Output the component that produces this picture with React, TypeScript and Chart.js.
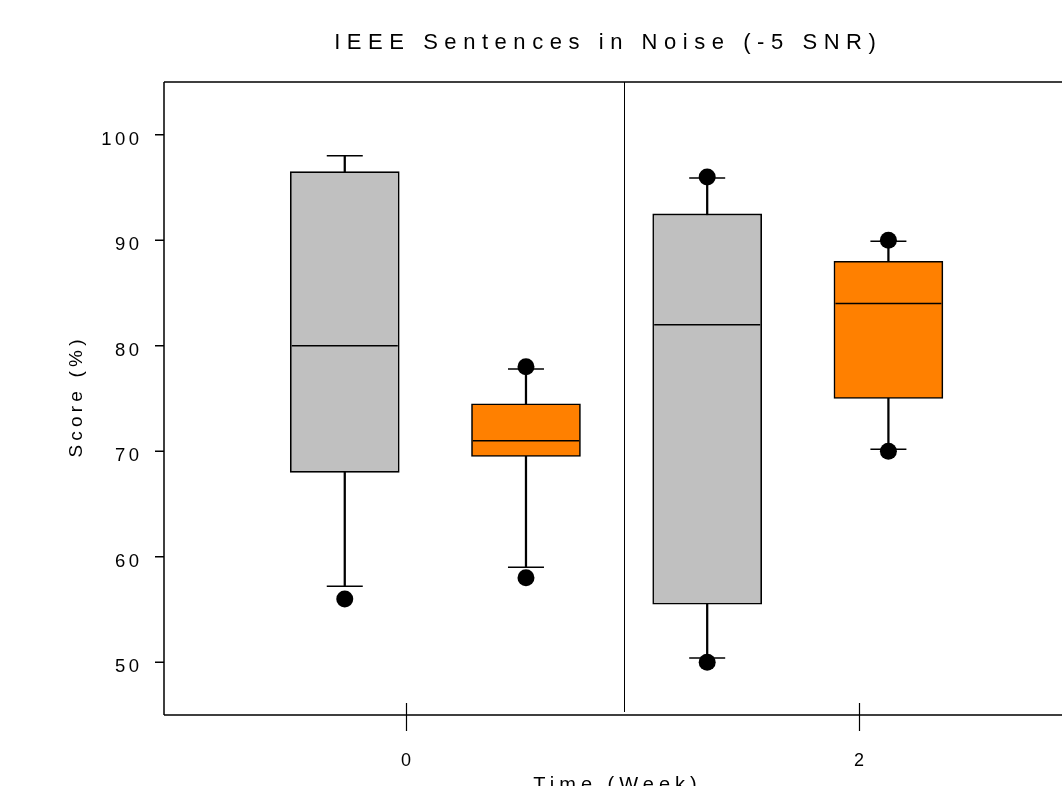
import React, { useEffect, useRef } from "react";
import { Chart, registerables } from "chart.js";

Chart.register(...registerables);

// ---------- text ----------
const titleText = "IEEE Sentences in Noise (-5 SNR)";
const xTitleText = "Time (Week)";
const yTitleText = "Score (%)";

// ---------- axes ----------
const yTickValues = [50, 60, 70, 80, 90, 100];
const xTickValues = [0, 2];
const yMin = 45;
const yMax = 105;
const xMin = -1.068;
const xMax = 2.914;
const dividerValues = [0.9625];

// ---------- control (gray) boxes ----------
const grayX = [-0.27, 1.33];
const grayWhiskerLow = [57.2, 50.4];
const grayQ1 = [68, 55.5];
const grayMedian = [80, 82];
const grayQ3 = [96.5, 92.5];
const grayWhiskerHigh = [98, 95.9];
const grayOutlierLow = [56, 50];
const grayOutlierHigh: (number | null)[] = [null, 96];

// ---------- treatment (orange) boxes ----------
const orangeX = [0.53, 2.13];
const orangeWhiskerLow = [59, 70.2];
const orangeQ1 = [69.5, 75];
const orangeMedian = [71, 84];
const orangeQ3 = [74.5, 88];
const orangeWhiskerHigh = [77.8, 89.9];
const orangeOutlierLow = [58, 70];
const orangeOutlierHigh = [78, 90];

const FONT = "'Liberation Sans', Arial, sans-serif";

function spacedText(
  ctx: CanvasRenderingContext2D,
  text: string,
  x: number,
  y: number,
  spacing: number,
  align: "left" | "center" | "right"
) {
  (ctx as any).letterSpacing = "0px";
  const w = ctx.measureText(text).width + spacing * (text.length - 1);
  let sx = x;
  if (align === "center") sx = x - w / 2;
  if (align === "right") sx = x - w;
  (ctx as any).letterSpacing = spacing + "px";
  ctx.textAlign = "left";
  ctx.fillText(text, sx, y);
  (ctx as any).letterSpacing = "0px";
}

const framePlugin = {
  id: "framePlugin",
  beforeDatasetsDraw(chart: any) {
    const { ctx, chartArea } = chart;
    const xs = chart.scales.x;
    const { left, right, top, bottom } = chartArea;
    ctx.save();
    ctx.strokeStyle = "#000";
    ctx.lineWidth = 1.5;
    ctx.beginPath();
    ctx.moveTo(left, top);
    ctx.lineTo(right, top);
    ctx.moveTo(left, top);
    ctx.lineTo(left, bottom);
    ctx.moveTo(left, bottom);
    ctx.lineTo(right, bottom);
    ctx.stroke();
    ctx.lineWidth = 1;
    ctx.beginPath();
    dividerValues.forEach((v) => {
      const px = Math.round(xs.getPixelForValue(v)) + 0.5;
      ctx.moveTo(px, top);
      ctx.lineTo(px, bottom - 3);
    });
    ctx.stroke();
    ctx.restore();
  },
  afterDraw(chart: any) {
    const { ctx, chartArea } = chart;
    const xs = chart.scales.x;
    const ys = chart.scales.y;
    const { left, right, top, bottom } = chartArea;
    ctx.save();
    ctx.strokeStyle = "#000";
    ctx.fillStyle = "#000";
    // y ticks
    ctx.lineWidth = 1.5;
    ctx.beginPath();
    yTickValues.forEach((v) => {
      const py = ys.getPixelForValue(v);
      ctx.moveTo(left - 9, py);
      ctx.lineTo(left, py);
    });
    ctx.stroke();
    ctx.font = `18.5px ${FONT}`;
    ctx.textBaseline = "alphabetic";
    yTickValues.forEach((v) => {
      const py = ys.getPixelForValue(v);
      spacedText(ctx, String(v), left - 25, py + 10, 3.5, "right");
    });
    // x ticks
    ctx.lineWidth = 1.2;
    ctx.beginPath();
    xTickValues.forEach((v) => {
      const px = Math.round(xs.getPixelForValue(v)) + 0.5;
      ctx.moveTo(px, bottom - 12);
      ctx.lineTo(px, bottom + 16);
    });
    ctx.stroke();
    ctx.font = `18px ${FONT}`;
    xTickValues.forEach((v) => {
      const px = xs.getPixelForValue(v);
      spacedText(ctx, String(v), px, bottom + 51, 3.5, "center");
    });
    // title
    ctx.font = `22px ${FONT}`;
    spacedText(ctx, titleText, (left + right) / 2 - 10, top - 33, 6.55, "center");
    // x title
    ctx.font = `20px ${FONT}`;
    spacedText(ctx, xTitleText, (left + right) / 2, bottom + 76, 5, "center");
    // y title
    ctx.save();
    ctx.translate(left - 82, (top + bottom) / 2);
    ctx.rotate(-Math.PI / 2);
    ctx.font = `19px ${FONT}`;
    spacedText(ctx, yTitleText, 0, 0, 4.2, "center");
    ctx.restore();
    ctx.restore();
  },
};

function pts(xs: number[], ys: (number | null)[]) {
  return xs
    .map((x, i) => ({ x, y: ys[i] }))
    .filter((p) => p.y !== null && p.y !== undefined);
}

export default function App() {
  const canvasRef = useRef<HTMLCanvasElement | null>(null);

  useEffect(() => {
    const canvas = canvasRef.current;
    if (!canvas) return;
    const allX = [...grayX, ...orangeX];
    const allLow = [...grayWhiskerLow, ...orangeWhiskerLow];
    const allHigh = [...grayWhiskerHigh, ...orangeWhiskerHigh];
    const allMedian = [...grayMedian, ...orangeMedian];

    const chart = new Chart(canvas, {
      type: "bar",
      data: {
        datasets: [
          {
            type: "bar",
            label: "whiskers",
            data: allX.map((x, i) => ({ x, y: [allLow[i], allHigh[i]] })) as any,
            backgroundColor: "#000",
            borderWidth: 0,
            barThickness: 1.6,
            grouped: false,
            order: 6,
          } as any,
          {
            type: "scatter",
            label: "caps",
            data: [...pts(allX, allLow), ...pts(allX, allHigh)] as any,
            pointStyle: "line",
            pointRadius: 18,
            borderColor: "#000",
            borderWidth: 1.5,
            order: 5,
          } as any,
          {
            type: "bar",
            label: "Control",
            data: grayX.map((x, i) => ({ x, y: [grayQ1[i], grayQ3[i]] })) as any,
            backgroundColor: "#c0c0c0",
            borderColor: "#000",
            borderWidth: 1.6,
            borderSkipped: false,
            barThickness: 109,
            grouped: false,
            order: 4,
          } as any,
          {
            type: "bar",
            label: "Treatment",
            data: orangeX.map((x, i) => ({ x, y: [orangeQ1[i], orangeQ3[i]] })) as any,
            backgroundColor: "#ff8000",
            borderColor: "#000",
            borderWidth: 1.6,
            borderSkipped: false,
            barThickness: 109,
            grouped: false,
            order: 3,
          } as any,
          {
            type: "scatter",
            label: "medians",
            data: pts(allX, allMedian) as any,
            pointStyle: "line",
            pointRadius: 53,
            borderColor: "#000",
            borderWidth: 1.5,
            order: 2,
          } as any,
          {
            type: "scatter",
            label: "outliers",
            data: [
              ...pts(grayX, grayOutlierLow),
              ...pts(grayX, grayOutlierHigh),
              ...pts(orangeX, orangeOutlierLow),
              ...pts(orangeX, orangeOutlierHigh),
            ] as any,
            pointStyle: "circle",
            pointRadius: 8.5,
            backgroundColor: "#000",
            borderColor: "#000",
            borderWidth: 0,
            order: 1,
          } as any,
        ],
      },
      options: {
        animation: false,
        responsive: false,
        events: [],
        layout: {
          autoPadding: false,
          padding: { left: 164, top: 82, right: 34, bottom: 71 },
        },
        plugins: {
          legend: { display: false },
          tooltip: { enabled: false },
          title: { display: false },
        },
        scales: {
          x: {
            type: "linear",
            min: xMin,
            max: xMax,
            offset: false,
            display: false,
          },
          y: {
            type: "linear",
            min: yMin,
            max: yMax,
            beginAtZero: false,
            display: false,
          },
        },
      } as any,
      plugins: [framePlugin],
    });
    return () => chart.destroy();
  }, []);

  return (
    <div
      style={{
        position: "fixed",
        left: 0,
        top: 0,
        width: 1062,
        height: 786,
        overflow: "hidden",
        background: "#fff",
      }}
    >
      <canvas ref={canvasRef} width={1100} height={786} style={{ display: "block" }} />
    </div>
  );
}
